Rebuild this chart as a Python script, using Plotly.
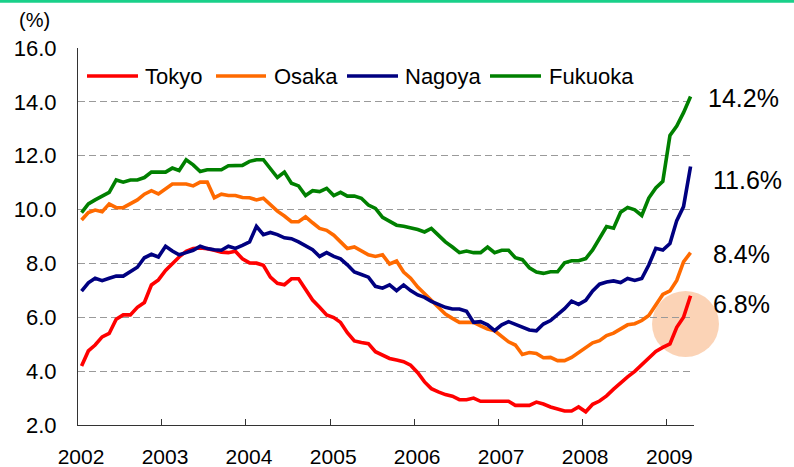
import pandas as pd
import plotly.graph_objects as go

# Monthly series, Jan 2002 - Apr 2009 (%)
start_month = "2002-01-01"
n_months = 88
series_names = ["Tokyo", "Osaka", "Nagoya", "Fukuoka"]
series_colors = ["#FF0000", "#FF6A00", "#000080", "#008000"]

tokyo = [4.19, 4.75, 4.97, 5.27, 5.40, 5.93, 6.09, 6.09, 6.37, 6.55, 7.20, 7.39,
         7.74, 7.99, 8.24, 8.45, 8.55, 8.57, 8.55, 8.49, 8.42, 8.40, 8.45, 8.17,
         8.02, 8.01, 7.93, 7.49, 7.26, 7.21, 7.43, 7.43, 7.05, 6.64, 6.37, 6.09,
         5.99, 5.81, 5.43, 5.12, 5.06, 5.02, 4.72, 4.59, 4.47, 4.41, 4.35, 4.22,
         3.94, 3.60, 3.35, 3.23, 3.13, 3.07, 2.94, 2.94, 3.00, 2.88, 2.88, 2.88,
         2.88, 2.88, 2.73, 2.73, 2.73, 2.85, 2.78, 2.67, 2.58, 2.52, 2.52, 2.67,
         2.49, 2.77, 2.89, 3.08, 3.33, 3.58, 3.79, 3.99, 4.24, 4.49, 4.73, 4.88,
         5.01, 5.63, 6.00, 6.8]

osaka = [9.61, 9.89, 9.98, 9.92, 10.21, 10.07, 10.07, 10.23, 10.36, 10.57, 10.70, 10.58,
         10.77, 10.95, 10.95, 10.95, 10.88, 11.02, 11.02, 10.44, 10.57, 10.52, 10.52, 10.45,
         10.44, 10.36, 10.42, 10.17, 9.94, 9.76, 9.55, 9.55, 9.73, 9.51, 9.30, 9.23,
         9.05, 8.80, 8.55, 8.61, 8.45, 8.32, 8.26, 8.32, 7.98, 8.09, 7.68, 7.45,
         7.12, 6.87, 6.62, 6.37, 6.12, 5.96, 5.81, 5.81, 5.81, 5.68, 5.56, 5.50,
         5.31, 5.09, 4.97, 4.62, 4.69, 4.66, 4.50, 4.51, 4.39, 4.39, 4.51, 4.70,
         4.88, 5.05, 5.13, 5.32, 5.41, 5.57, 5.72, 5.76, 5.88, 6.07, 6.48, 6.85,
         6.98, 7.37, 8.06, 8.4]

nagoya = [6.97, 7.28, 7.45, 7.36, 7.45, 7.53, 7.53, 7.68, 7.86, 8.21, 8.34, 8.24,
          8.64, 8.46, 8.32, 8.40, 8.49, 8.64, 8.55, 8.51, 8.49, 8.64, 8.56, 8.67,
          8.80, 9.38, 9.07, 9.15, 9.07, 8.95, 8.92, 8.80, 8.64, 8.51, 8.26, 8.40,
          8.26, 8.17, 7.95, 7.68, 7.59, 7.49, 7.15, 7.08, 7.20, 6.99, 7.20, 6.99,
          6.83, 6.74, 6.59, 6.49, 6.37, 6.31, 6.31, 6.22, 5.81, 5.84, 5.72, 5.50,
          5.72, 5.84, 5.74, 5.62, 5.53, 5.50, 5.75, 5.88, 6.10, 6.32, 6.60, 6.48,
          6.63, 6.98, 7.23, 7.31, 7.35, 7.29, 7.44, 7.37, 7.44, 7.94, 8.56, 8.50,
          8.74, 9.59, 10.11, 11.6]

fukuoka = [9.89, 10.21, 10.36, 10.50, 10.64, 11.10, 11.02, 11.10, 11.10, 11.19, 11.39, 11.39,
           11.39, 11.54, 11.45, 11.85, 11.66, 11.41, 11.48, 11.48, 11.48, 11.63, 11.64, 11.64,
           11.79, 11.85, 11.85, 11.54, 11.19, 11.39, 10.98, 10.88, 10.52, 10.70, 10.67, 10.79,
           10.52, 10.64, 10.50, 10.50, 10.42, 10.17, 10.04, 9.71, 9.58, 9.42, 9.38, 9.33,
           9.26, 9.17, 9.30, 9.05, 8.80, 8.61, 8.40, 8.46, 8.40, 8.40, 8.61, 8.40,
           8.49, 8.49, 8.21, 8.14, 7.84, 7.68, 7.63, 7.69, 7.69, 8.02, 8.10, 8.10,
           8.18, 8.50, 8.93, 9.37, 9.31, 9.90, 10.08, 9.99, 9.78, 10.43, 10.80, 11.05,
           12.75, 13.10, 13.60, 14.2]

year_labels = ["2002", "2003", "2004", "2005", "2006", "2007", "2008", "2009"]
y_ticks = [2, 4, 6, 8, 10, 12, 14, 16]

all_series = [tokyo, osaka, nagoya, fukuoka]

# each value sits in the middle of its month
month_starts = pd.date_range(start_month, periods=n_months + 1, freq="MS")
x_mid = month_starts[:-1] + (month_starts[1:] - month_starts[:-1]) / 2

FONT = "Liberation Sans, Arial, sans-serif"
W_PX, H_PX = 794, 467
ML, MR, MT, MB = 78, 100, 48, 42
PW, PH = W_PX - ML - MR, H_PX - MT - MB


def px_x(px):
    return (px - ML) / PW


def px_y(py):
    return (H_PX - MB - py) / PH


fig = go.Figure()
for name, vals, col in zip(series_names, all_series, series_colors):
    fig.add_trace(go.Scatter(x=x_mid, y=vals, mode="lines", name=name,
                             line=dict(color=col, width=3.6),
                             showlegend=False))

shapes = []
annotations = []

# green rule across the top of the page
shapes.append(dict(type="line", xref="paper", yref="paper",
                   x0=px_x(0), x1=px_x(W_PX), y0=px_y(1.2), y1=px_y(1.2),
                   line=dict(color="#19D08A", width=3)))

# highlight disc around the latest Tokyo value
shapes.append(dict(type="circle", xref="paper", yref="paper", layer="below",
                   x0=px_x(652), x1=px_x(719), y0=px_y(357), y1=px_y(291),
                   fillcolor="rgba(245,150,80,0.42)", line=dict(width=0)))

# legend row
legend_line_x = [(87, 138), (216, 266), (347, 398), (490, 541)]
legend_text_x = [143, 272, 403, 547]
for name, col, (a, b), tx in zip(series_names, series_colors, legend_line_x, legend_text_x):
    shapes.append(dict(type="line", xref="paper", yref="paper",
                       x0=px_x(a), x1=px_x(b), y0=px_y(76), y1=px_y(76),
                       line=dict(color=col, width=3.6)))
    annotations.append(dict(xref="paper", yref="paper", x=px_x(tx), y=px_y(77),
                            xanchor="left", yanchor="middle", showarrow=False,
                            text=name, font=dict(family=FONT, size=22, color="black")))

# latest-value labels
end_label_pos = [(706, 98), (711, 180), (711, 254), (711, 304)]
for vals, (lx, ly) in zip([fukuoka, nagoya, osaka, tokyo], end_label_pos):
    annotations.append(dict(xref="paper", yref="paper", x=px_x(lx), y=px_y(ly),
                            xanchor="left", yanchor="middle", showarrow=False,
                            text=f"{vals[-1]:.1f}%",
                            font=dict(family=FONT, size=25, color="black")))

# unit label
annotations.append(dict(xref="paper", yref="paper", x=px_x(34), y=px_y(20),
                        xanchor="center", yanchor="middle", showarrow=False,
                        text="(%)", font=dict(family=FONT, size=20, color="black")))

year_ticks = [f"{y}-01-01" for y in year_labels]

fig.update_layout(
    width=W_PX, height=H_PX,
    margin=dict(l=ML, r=MR, t=MT, b=MB, pad=0, autoexpand=False),
    paper_bgcolor="white", plot_bgcolor="white",
    shapes=shapes, annotations=annotations,
    font=dict(family=FONT, color="black"),
    xaxis=dict(type="date", automargin=False,
               range=[start_month, str(month_starts[-1].date())],
               tickvals=year_ticks, ticktext=year_labels,
               ticks="inside", ticklen=6, tickcolor="#333", tickwidth=1,
               ticklabelshift=3, ticklabelstandoff=13,
               showline=True, linecolor="#333", linewidth=1.2,
               showgrid=False, zeroline=False,
               tickfont=dict(family=FONT, size=21, color="black")),
    yaxis=dict(range=[2, 16], tickvals=y_ticks, automargin=False,
               ticktext=[f"{v:.1f}" for v in y_ticks],
               ticks="", ticklabelstandoff=16,
               showline=True, linecolor="#333", linewidth=1.2,
               showgrid=True, gridcolor="#9a9a9a", gridwidth=1, griddash="7px,4px",
               zeroline=False,
               tickfont=dict(family=FONT, size=22, color="black")),
)

fig.write_html("out.html")
